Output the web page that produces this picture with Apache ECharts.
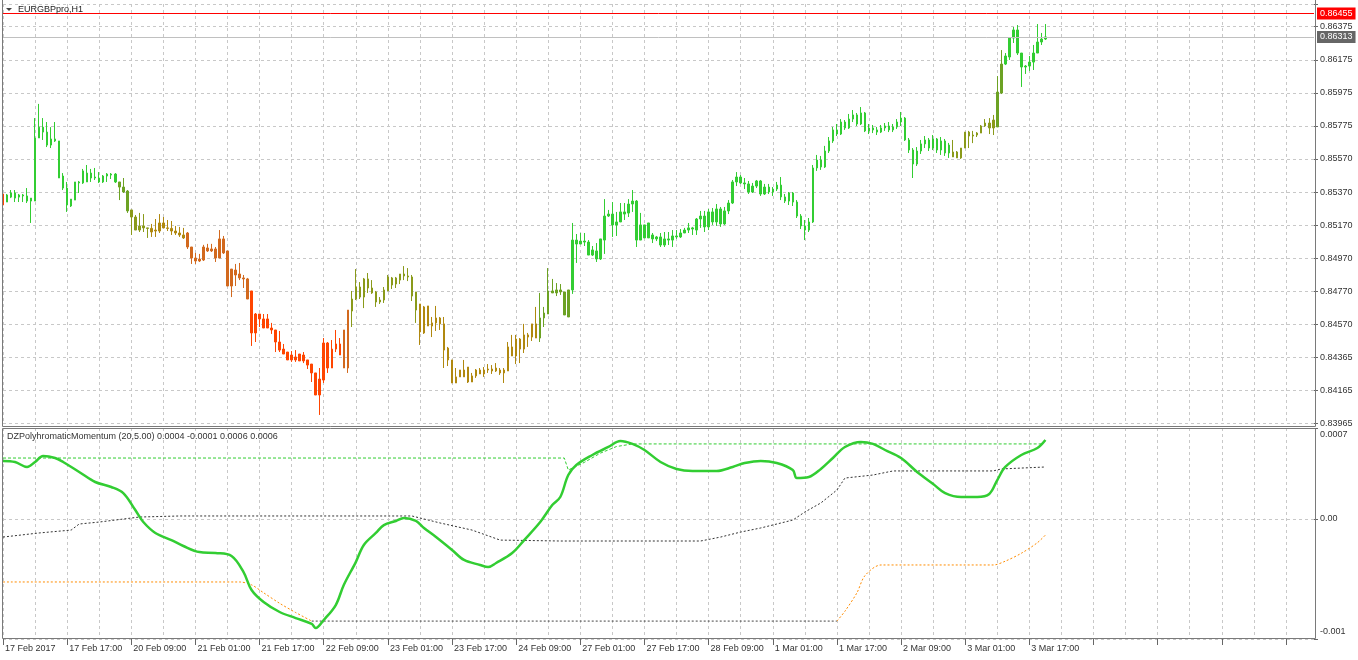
<!DOCTYPE html>
<html><head><meta charset="utf-8">
<script src="https://cdn.jsdelivr.net/npm/echarts@6.0.0/dist/echarts.min.js"></script>
<style>html,body{margin:0;padding:0;background:#fff}#c{width:1358px;height:660px}</style>
</head><body><div id="c"></div>
<script>
// ---------------- data ----------------
const symbolTitle = 'EURGBPpro,H1';
const indicatorTitle = 'DZPolyhromaticMomentum (20,5.00) 0.0004 -0.0001 0.0006 0.0006';
const priceTickLabels = ['0.83965','0.84165','0.84365','0.84570','0.84770','0.84970','0.85170','0.85370','0.85570','0.85775','0.85975','0.86175','0.86375'];
const priceAxisMin = 0.83965, priceAxisStep = 0.0020083, priceAxisMax = 0.865128;
const indTickLabels = ['-0.001','0.00','0.0007'];
const indAxisMin = -0.000911, indAxisMax = 0.000691;
const timeTickLabels = ['17 Feb 2017','17 Feb 17:00','20 Feb 09:00','21 Feb 01:00','21 Feb 17:00','22 Feb 09:00','23 Feb 01:00','23 Feb 17:00','24 Feb 09:00','27 Feb 01:00','27 Feb 17:00','28 Feb 09:00','1 Mar 01:00','1 Mar 17:00','2 Mar 09:00','3 Mar 01:00','3 Mar 17:00'];
const slotCount = 328; // bar slots on the time axis (incl. empty right margin)
const levelLine = 0.86455;
const bidLine = 0.86313;
// [open, close, low, high]
const ohlc = [
[0.85359,0.85292,0.85280,0.85359],[0.85310,0.85353,0.85310,0.85359],[0.85340,0.85365,0.85334,0.85383],[0.85365,0.85334,0.85310,0.85383],
[0.85340,0.85353,0.85310,0.85359],[0.85353,0.85347,0.85310,0.85359],[0.85347,0.85316,0.85304,0.85395],[0.85316,0.85334,0.85183,0.85334],
[0.85316,0.85699,0.85316,0.85820],[0.85699,0.85765,0.85699,0.85906],[0.85765,0.85735,0.85687,0.85820],[0.85735,0.85656,0.85644,0.85796],
[0.85656,0.85693,0.85638,0.85765],[0.85693,0.85681,0.85675,0.85796],[0.85681,0.85456,0.85456,0.85681],[0.85468,0.85395,0.85383,0.85486],
[0.85395,0.85292,0.85250,0.85432],[0.85286,0.85328,0.85280,0.85328],[0.85322,0.85432,0.85322,0.85432],[0.85432,0.85426,0.85365,0.85438],
[0.85426,0.85499,0.85420,0.85511],[0.85486,0.85432,0.85432,0.85535],[0.85456,0.85486,0.85432,0.85511],[0.85462,0.85456,0.85444,0.85517],
[0.85456,0.85432,0.85426,0.85492],[0.85432,0.85468,0.85426,0.85474],[0.85468,0.85480,0.85432,0.85486],[0.85480,0.85474,0.85450,0.85486],
[0.85480,0.85432,0.85426,0.85486],[0.85432,0.85401,0.85322,0.85432],[0.85401,0.85371,0.85365,0.85456],[0.85377,0.85256,0.85244,0.85383],
[0.85262,0.85219,0.85110,0.85262],[0.85219,0.85140,0.85140,0.85231],[0.85140,0.85165,0.85128,0.85244],[0.85165,0.85153,0.85128,0.85237],
[0.85153,0.85150,0.85092,0.85153],[0.85150,0.85128,0.85098,0.85177],[0.85134,0.85140,0.85098,0.85207],[0.85134,0.85183,0.85122,0.85237],
[0.85183,0.85153,0.85153,0.85219],[0.85153,0.85150,0.85134,0.85201],[0.85150,0.85134,0.85110,0.85195],[0.85134,0.85122,0.85110,0.85165],
[0.85122,0.85110,0.85098,0.85159],[0.85110,0.85092,0.85086,0.85153],[0.85122,0.85037,0.85025,0.85128],[0.85037,0.84970,0.84934,0.85037],
[0.84970,0.84952,0.84934,0.85001],[0.84952,0.84964,0.84946,0.84995],[0.84958,0.85037,0.84952,0.85050],[0.85031,0.85013,0.85007,0.85056],
[0.85013,0.85025,0.85007,0.85056],[0.85025,0.84970,0.84946,0.85037],[0.84970,0.85086,0.84970,0.85140],[0.85086,0.85001,0.84995,0.85104],
[0.85013,0.84800,0.84800,0.85013],[0.84800,0.84903,0.84733,0.84903],[0.84897,0.84867,0.84800,0.84934],[0.84873,0.84849,0.84836,0.84940],
[0.84849,0.84843,0.84788,0.84867],[0.84843,0.84721,0.84721,0.84849],[0.84770,0.84515,0.84436,0.84770],[0.84515,0.84630,0.84460,0.84636],
[0.84630,0.84600,0.84551,0.84630],[0.84600,0.84545,0.84545,0.84630],[0.84545,0.84600,0.84545,0.84630],[0.84545,0.84533,0.84509,0.84576],
[0.84533,0.84460,0.84399,0.84533],[0.84460,0.84411,0.84399,0.84527],[0.84417,0.84387,0.84387,0.84448],[0.84399,0.84351,0.84351,0.84399],
[0.84351,0.84381,0.84339,0.84405],[0.84369,0.84351,0.84339,0.84411],[0.84345,0.84387,0.84345,0.84387],[0.84381,0.84345,0.84332,0.84399],
[0.84351,0.84320,0.84296,0.84351],[0.84326,0.84272,0.84217,0.84326],[0.84272,0.84138,0.84138,0.84272],[0.84138,0.84235,0.84017,0.84302],
[0.84229,0.84454,0.84211,0.84484],[0.84454,0.84302,0.84272,0.84460],[0.84302,0.84417,0.84302,0.84472],[0.84417,0.84448,0.84399,0.84533],
[0.84448,0.84381,0.84381,0.84484],[0.84533,0.84302,0.84302,0.84533],[0.84302,0.84654,0.84272,0.84654],[0.84648,0.84721,0.84551,0.84770],
[0.84721,0.84794,0.84715,0.84903],[0.84794,0.84733,0.84721,0.84824],[0.84733,0.84843,0.84666,0.84849],[0.84843,0.84788,0.84758,0.84879],
[0.84788,0.84758,0.84752,0.84836],[0.84764,0.84703,0.84673,0.84770],[0.84703,0.84715,0.84691,0.84733],[0.84715,0.84776,0.84697,0.84794],
[0.84770,0.84855,0.84770,0.84867],[0.84849,0.84806,0.84782,0.84855],[0.84812,0.84849,0.84788,0.84855],[0.84836,0.84873,0.84812,0.84873],
[0.84873,0.84861,0.84836,0.84921],[0.84861,0.84855,0.84830,0.84909],[0.84855,0.84739,0.84709,0.84867],[0.84764,0.84654,0.84576,0.84764],
[0.84691,0.84521,0.84442,0.84691],[0.84515,0.84673,0.84509,0.84679],[0.84679,0.84557,0.84557,0.84679],[0.84557,0.84576,0.84490,0.84612],
[0.84576,0.84606,0.84527,0.84679],[0.84606,0.84570,0.84533,0.84612],[0.84570,0.84411,0.84302,0.84612],[0.84423,0.84351,0.84314,0.84430],
[0.84351,0.84211,0.84211,0.84351],[0.84211,0.84248,0.84211,0.84302],[0.84248,0.84290,0.84248,0.84290],[0.84290,0.84248,0.84248,0.84351],
[0.84308,0.84217,0.84211,0.84308],[0.84217,0.84254,0.84217,0.84272],[0.84254,0.84290,0.84242,0.84296],[0.84290,0.84266,0.84266,0.84302],
[0.84266,0.84290,0.84248,0.84308],[0.84290,0.84296,0.84272,0.84326],[0.84296,0.84284,0.84266,0.84320],[0.84284,0.84302,0.84278,0.84332],
[0.84290,0.84272,0.84260,0.84302],[0.84272,0.84290,0.84211,0.84302],[0.84284,0.84430,0.84284,0.84460],[0.84430,0.84375,0.84375,0.84503],
[0.84375,0.84478,0.84326,0.84503],[0.84478,0.84417,0.84332,0.84484],[0.84417,0.84503,0.84393,0.84570],[0.84503,0.84490,0.84430,0.84515],
[0.84490,0.84570,0.84466,0.84570],[0.84570,0.84484,0.84484,0.84673],[0.84484,0.84606,0.84460,0.84758],[0.84606,0.84636,0.84551,0.84673],
[0.84630,0.84770,0.84630,0.84909],[0.84770,0.84758,0.84758,0.84843],[0.84758,0.84776,0.84739,0.84818],[0.84776,0.84764,0.84746,0.84812],
[0.84764,0.84624,0.84624,0.84764],[0.84612,0.84776,0.84612,0.84776],[0.84776,0.85079,0.84752,0.85183],[0.85079,0.85055,0.84940,0.85116],
[0.85055,0.85073,0.85055,0.85122],[0.85073,0.85067,0.85043,0.85122],[0.85067,0.84988,0.84988,0.85079],[0.84988,0.85019,0.84982,0.85043],
[0.85013,0.84964,0.84946,0.85061],[0.84964,0.85086,0.84958,0.85086],[0.85079,0.85225,0.84995,0.85328],[0.85225,0.85237,0.85219,0.85262],
[0.85237,0.85171,0.85098,0.85310],[0.85171,0.85189,0.85104,0.85250],[0.85189,0.85250,0.85189,0.85304],[0.85250,0.85237,0.85201,0.85304],
[0.85243,0.85298,0.85219,0.85328],[0.85298,0.85316,0.85250,0.85383],[0.85316,0.85079,0.85037,0.85322],[0.85079,0.85171,0.85079,0.85244],
[0.85171,0.85092,0.85092,0.85171],[0.85092,0.85183,0.85092,0.85183],[0.85110,0.85086,0.85061,0.85122],[0.85086,0.85098,0.85073,0.85104],
[0.85098,0.85049,0.85037,0.85122],[0.85049,0.85086,0.85037,0.85128],[0.85086,0.85079,0.85049,0.85128],[0.85079,0.85104,0.85037,0.85140],
[0.85104,0.85098,0.85086,0.85140],[0.85098,0.85122,0.85092,0.85146],[0.85122,0.85140,0.85122,0.85153],[0.85140,0.85153,0.85122,0.85183],
[0.85153,0.85146,0.85110,0.85159],[0.85140,0.85207,0.85110,0.85213],[0.85207,0.85225,0.85153,0.85256],[0.85225,0.85159,0.85128,0.85256],
[0.85159,0.85250,0.85140,0.85268],[0.85250,0.85189,0.85171,0.85274],[0.85189,0.85268,0.85165,0.85298],[0.85268,0.85177,0.85159,0.85280],
[0.85177,0.85256,0.85171,0.85280],[0.85256,0.85304,0.85237,0.85322],[0.85304,0.85432,0.85298,0.85444],[0.85432,0.85462,0.85407,0.85492],
[0.85462,0.85426,0.85420,0.85474],[0.85426,0.85420,0.85389,0.85456],[0.85420,0.85371,0.85359,0.85438],[0.85371,0.85407,0.85365,0.85426],
[0.85407,0.85438,0.85395,0.85444],[0.85438,0.85359,0.85347,0.85444],[0.85359,0.85401,0.85353,0.85420],[0.85401,0.85371,0.85359,0.85420],
[0.85371,0.85389,0.85347,0.85401],[0.85389,0.85413,0.85377,0.85432],[0.85413,0.85341,0.85322,0.85462],[0.85341,0.85316,0.85304,0.85359],
[0.85316,0.85365,0.85292,0.85371],[0.85365,0.85310,0.85286,0.85371],[0.85310,0.85225,0.85213,0.85322],[0.85225,0.85165,0.85146,0.85237],
[0.85165,0.85140,0.85079,0.85201],[0.85140,0.85189,0.85128,0.85213],[0.85189,0.85517,0.85183,0.85535],[0.85517,0.85565,0.85499,0.85596],
[0.85565,0.85523,0.85505,0.85590],[0.85523,0.85620,0.85517,0.85651],[0.85620,0.85681,0.85608,0.85705],[0.85681,0.85748,0.85669,0.85766],
[0.85748,0.85723,0.85711,0.85784],[0.85723,0.85796,0.85717,0.85814],[0.85796,0.85760,0.85748,0.85808],[0.85760,0.85814,0.85754,0.85845],
[0.85814,0.85839,0.85796,0.85869],[0.85839,0.85784,0.85772,0.85851],[0.85784,0.85851,0.85778,0.85887],[0.85851,0.85742,0.85735,0.85857],
[0.85742,0.85760,0.85723,0.85784],[0.85760,0.85748,0.85729,0.85778],[0.85748,0.85735,0.85717,0.85766],[0.85735,0.85760,0.85729,0.85778],
[0.85760,0.85772,0.85742,0.85790],[0.85772,0.85748,0.85735,0.85796],[0.85748,0.85766,0.85735,0.85784],[0.85766,0.85796,0.85754,0.85814],
[0.85796,0.85820,0.85772,0.85857],[0.85820,0.85687,0.85681,0.85826],[0.85687,0.85626,0.85608,0.85699],[0.85626,0.85541,0.85456,0.85638],
[0.85541,0.85620,0.85529,0.85644],[0.85620,0.85663,0.85602,0.85687],[0.85663,0.85687,0.85638,0.85711],[0.85687,0.85638,0.85620,0.85699],
[0.85638,0.85693,0.85626,0.85717],[0.85693,0.85626,0.85608,0.85699],[0.85626,0.85681,0.85596,0.85705],[0.85681,0.85608,0.85590,0.85693],
[0.85608,0.85656,0.85578,0.85669],[0.85584,0.85614,0.85584,0.85687],[0.85614,0.85578,0.85578,0.85620],[0.85578,0.85638,0.85572,0.85638],
[0.85638,0.85735,0.85638,0.85735],[0.85735,0.85711,0.85638,0.85742],[0.85711,0.85717,0.85668,0.85742],[0.85717,0.85729,0.85705,0.85735],
[0.85729,0.85772,0.85729,0.85778],[0.85772,0.85790,0.85766,0.85814],[0.85790,0.85760,0.85723,0.85820],[0.85760,0.85808,0.85717,0.85839],
[0.85766,0.85978,0.85766,0.86075],[0.85972,0.86148,0.85966,0.86233],[0.86148,0.86197,0.86142,0.86215],[0.86191,0.86306,0.86173,0.86312],
[0.86306,0.86355,0.86276,0.86373],[0.86355,0.86215,0.86203,0.86385],[0.86215,0.86130,0.86009,0.86215],[0.86130,0.86136,0.86088,0.86142],
[0.86136,0.86160,0.86106,0.86197],[0.86160,0.86215,0.86112,0.86264],[0.86215,0.86282,0.86215,0.86391],[0.86282,0.86300,0.86264,0.86337],
[0.86300,0.86313,0.86294,0.86391]
];
// momentum zone runs: [zone, number of consecutive bars] (0 = strongest down ... 5 = strongest up)
const zoneRuns = [[0,1],[5,28],[4,3],[3,5],[2,9],[1,16],[0,23],[1,2],[3,17],[2,30],[4,8],[5,95],[3,11],[4,2],[5,11]];
// indicator buffers, [bar index, value]
const momentum = [[0,0.000441],[3,0.000433],[6,0.000395],[8,0.000433],[10,0.000478],[13,0.000463],[15,0.000433],[19,0.000357],[23,0.000281],[27,0.000243],[30,0.000197],[33,0.000068],[35,-0.000023],[38,-0.000106],[42,-0.000160],[45,-0.000205],[49,-0.000251],[53,-0.000258],[57,-0.000281],[60,-0.000403],[62,-0.000539],[65,-0.000630],[69,-0.000706],[73,-0.000752],[77,-0.000797],[78,-0.000828],[80,-0.000767],[83,-0.000653],[85,-0.000501],[88,-0.000327],[90,-0.000197],[93,-0.000106],[95,-0.000046],[98,-0.000015],[100,0.000008],[103,-0.000015],[105,-0.000068],[108,-0.000137],[112,-0.000235],[115,-0.000311],[119,-0.000349],[121,-0.000365],[123,-0.000334],[127,-0.000258],[130,-0.000160],[134,-0.000023],[137,0.000106],[139,0.000167],[141,0.000334],[143,0.000410],[147,0.000486],[151,0.000547],[154,0.000592],[157,0.000570],[160,0.000524],[164,0.000433],[168,0.000380],[172,0.000365],[178,0.000365],[182,0.000395],[185,0.000425],[189,0.000441],[193,0.000425],[197,0.000372],[198,0.000311],[201,0.000319],[204,0.000380],[207,0.000463],[210,0.000547],[214,0.000585],[217,0.000570],[220,0.000524],[224,0.000463],[228,0.000357],[232,0.000266],[235,0.000197],[239,0.000167],[243,0.000167],[246,0.000190],[248,0.000296],[250,0.000395],[254,0.000486],[258,0.000539],[260,0.000600]];
const upperBand = [[0,0.000463],[140,0.000463],[141,0.000372],[145,0.000430],[149,0.000500],[153,0.000550],[157,0.000570],[259,0.000570],[260,0.000592]];
const middleLine = [[0,-0.000137],[9,-0.000106],[17,-0.000084],[19,-0.000038],[24,-0.000023],[34,0.000015],[44,0.000023],[102,0.000023],[109,-0.000030],[117,-0.000084],[124,-0.000160],[139,-0.000167],[174,-0.000167],[179,-0.000137],[184,-0.000099],[189,-0.000068],[197,-0.000008],[200,0.000053],[204,0.000122],[208,0.000220],[210,0.000311],[217,0.000334],[222,0.000365],[247,0.000365],[249,0.000380],[260,0.000395]];
const lowerBandFalling = [[0,-0.000478],[59,-0.000478],[62,-0.000500],[65,-0.000560],[69,-0.000640],[73,-0.000710],[77,-0.000775]];
const lowerBandFlat = [[77,-0.000775],[208,-0.000775]];
const lowerBandRising = [[208,-0.000775],[210,-0.000700],[213,-0.000560],[215,-0.000430],[219,-0.000349],[247,-0.000349],[250,-0.000320],[254,-0.000260],[258,-0.000180],[260,-0.000122]];

// ---------------- styles ----------------
const zoneColors = ['#FF4500','#D2691E','#B0880F','#8A9A1A','#6CA223','#32CD32'];
const FONT = 'Liberation Sans';
const gridColor = '#c8c8c8';
const textColor = '#333';

const slots = Array.from({length: slotCount}, (_, i) => String(i));
const barZone = [];
zoneRuns.forEach(([z, n]) => { for (let k = 0; k < n; k++) barZone.push(z); });
const candleData = ohlc.map((v, i) => {
  const c = zoneColors[barZone[i] ?? 5];
  return {value: v, itemStyle: {color: c, color0: c, borderColor: c, borderColor0: c, borderColorDoji: c}};
});

const dashed = {color: gridColor, type: [3, 3], width: 1};
const chart = echarts.init(document.getElementById('c'), null, {renderer: 'canvas'});
chart.setOption({
  animation: false,
  backgroundColor: '#fff',
  textStyle: {fontFamily: FONT},
  grid: [
    {left: 3, right: 44, top: 4, height: 419.5},
    {left: 3, right: 44, top: 428, height: 211}
  ],
  xAxis: [
    {type: 'category', gridIndex: 0, data: slots, boundaryGap: false,
     axisLine: {show: false, onZero: false}, axisTick: {show: false}, axisLabel: {show: false},
     splitLine: {show: true, interval: 7, lineStyle: dashed}},
    {type: 'category', gridIndex: 1, data: slots, boundaryGap: false, position: 'bottom',
     axisLine: {show: false, onZero: false},
     axisTick: {show: true, interval: 15, length: 6, lineStyle: {color: '#666'}},
     axisLabel: {interval: 15, align: 'left', margin: 5, padding: [0, 0, 0, 2],
       fontSize: 9, fontFamily: FONT, color: textColor,
       formatter: (v, i) => timeTickLabels[i / 16] || ''},
     splitLine: {show: true, interval: 7, lineStyle: dashed}}
  ],
  yAxis: [
    {type: 'value', gridIndex: 0, position: 'right',
     min: priceAxisMin, max: priceAxisMax, interval: priceAxisStep,
     axisLine: {show: false},
     axisTick: {show: true, length: 4, lineStyle: {color: '#666'}},
     axisLabel: {margin: 6, fontSize: 9, fontFamily: FONT, color: textColor,
       formatter: v => priceTickLabels[Math.round((v - priceAxisMin) / priceAxisStep)] || ''},
     splitLine: {show: true, lineStyle: dashed}},
    {type: 'value', gridIndex: 1, position: 'right',
     min: indAxisMin, max: indAxisMax, interval: -indAxisMin,
     axisLine: {show: false},
     axisTick: {show: true, length: 4, lineStyle: {color: '#666'}},
     axisLabel: {margin: 6, fontSize: 9, fontFamily: FONT, color: textColor,
       formatter: v => {
         if (Math.abs(v) < 1e-9) return indTickLabels[1];
         return v < 0 ? '{b|' + indTickLabels[0] + '}' : '{t|' + indTickLabels[2] + '}';
       },
       rich: {t: {padding: [14, 0, 0, 0], fontSize: 9, color: textColor}, b: {padding: [0, 0, 14, 0], fontSize: 9, color: textColor}}},
     splitLine: {show: true, lineStyle: dashed}}
  ],
  series: [
    {type: 'candlestick', xAxisIndex: 0, yAxisIndex: 0, data: candleData,
     barWidth: 2, clip: false, itemStyle: {borderWidth: 1},
     markLine: {silent: true, symbol: ['none', 'none'], animation: false, precision: 5,
       data: [
         {yAxis: levelLine, lineStyle: {color: '#ff0000', type: 'solid', width: 1},
          label: {show: true, position: 'end', distance: 3, formatter: levelLine.toFixed(5),
            backgroundColor: '#ff0000', color: '#fff', padding: [2, 3, 1, 3], fontSize: 9, fontFamily: FONT}},
         {yAxis: bidLine, lineStyle: {color: '#c0c0c0', type: 'solid', width: 1},
          label: {show: true, position: 'end', distance: 3, formatter: bidLine.toFixed(5),
            backgroundColor: '#666666', color: '#fff', padding: [2, 3, 1, 3], fontSize: 9, fontFamily: FONT}}
       ]}},
    {type: 'line', name: 'middle', xAxisIndex: 1, yAxisIndex: 1, data: middleLine, showSymbol: false,
     lineStyle: {color: '#333', width: 1, type: [2, 2]}},
    {type: 'line', name: 'lowerFalling', xAxisIndex: 1, yAxisIndex: 1, data: lowerBandFalling, showSymbol: false, smooth: 0.3,
     lineStyle: {color: '#FF8C00', width: 1, type: [2, 2]}},
    {type: 'line', name: 'lowerFlat', xAxisIndex: 1, yAxisIndex: 1, data: lowerBandFlat, showSymbol: false,
     lineStyle: {color: '#444', width: 1, type: [2, 2]}},
    {type: 'line', name: 'lowerRising', xAxisIndex: 1, yAxisIndex: 1, data: lowerBandRising, showSymbol: false, smooth: 0.3,
     lineStyle: {color: '#FF8C00', width: 1, type: [2, 2]}},
    {type: 'line', name: 'upper', xAxisIndex: 1, yAxisIndex: 1, data: upperBand, showSymbol: false,
     lineStyle: {color: '#32CD32', width: 1, type: [3, 2]}},
    {type: 'line', name: 'momentum', xAxisIndex: 1, yAxisIndex: 1, data: momentum, showSymbol: false, smooth: 0.35,
     lineStyle: {color: '#32CD32', width: 2.5}, z: 5}
  ],
  graphic: [
    {type: 'rect', silent: true, z: 100, shape: {x: 2.5, y: -2, width: 1313, height: 428.5},
     style: {fill: 'none', stroke: '#7a7a7a', lineWidth: 1}},
    {type: 'rect', silent: true, z: 100, shape: {x: 2.5, y: 428.5, width: 1313, height: 210},
     style: {fill: 'none', stroke: '#7a7a7a', lineWidth: 1}},
    {type: 'polygon', silent: true, z: 100, shape: {points: [[6, 8], [12, 8], [9, 11]]}, style: {fill: '#444'}},
    {type: 'text', silent: true, z: 100, x: 18, y: 5, style: {text: symbolTitle, fontSize: 9, fontFamily: FONT, fill: '#222'}},
    {type: 'text', silent: true, z: 100, x: 7, y: 432, style: {text: indicatorTitle, fontSize: 9, fontFamily: FONT, fill: '#333'}}
  ]
});
</script>
</body></html>
